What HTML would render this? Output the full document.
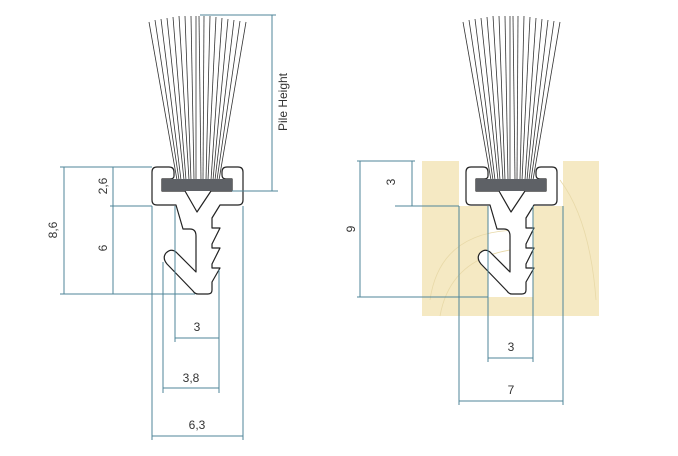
<!DOCTYPE html>
<html><head><meta charset="utf-8"><style>
html,body{margin:0;padding:0;background:#fff;width:678px;height:456px;overflow:hidden}
svg{display:block}
text{font-family:"Liberation Sans",sans-serif;font-size:12px;fill:#333}
</style></head><body>
<svg width="678" height="456" viewBox="0 0 678 456" xmlns="http://www.w3.org/2000/svg">
<defs>
<g id="bristles" stroke="#333" stroke-width="0.8" fill="none">
<line x1="149" y1="22" x2="177" y2="180"/>
<line x1="155" y1="20" x2="179" y2="180"/>
<line x1="161" y1="19" x2="181" y2="180"/>
<line x1="167" y1="18" x2="184" y2="180"/>
<line x1="173" y1="17" x2="186" y2="180"/>
<line x1="179" y1="16" x2="189" y2="180"/>
<line x1="185" y1="16" x2="191" y2="180"/>
<line x1="191" y1="16" x2="194" y2="180"/>
<line x1="196" y1="16" x2="196" y2="180"/>
<line x1="199" y1="16" x2="201" y2="180"/>
<line x1="204" y1="16" x2="203" y2="180"/>
<line x1="210" y1="16" x2="206" y2="180"/>
<line x1="216" y1="17" x2="208" y2="180"/>
<line x1="222" y1="18" x2="211" y2="180"/>
<line x1="228" y1="19" x2="213" y2="180"/>
<line x1="234" y1="20" x2="215" y2="180"/>
<line x1="240" y1="21" x2="217" y2="180"/>
<line x1="246" y1="22" x2="219" y2="180"/>
</g>
<g id="profile">
<use href="#bristles"/>
<path d="M152,172 Q152,167 157,167 H169 Q174,167 174,172 V176 Q174,179 170,179 H162 V191 H185 L197,212 L211,191 H232 V179 H226 Q222,179 222,175 V172 Q222,167 227,167 H238 Q243,167 243,172 V200 Q243,205 238,205 H220 L212,218 V228 L220,228 L212,244 V248 L220,248 L212,264 V268 L220,268 L212,282 V290 Q212,294 208,294 H198 Q195,294 193,291 L167,264 Q162,258 166,253 Q171,248 176,252 L196,272 V236 Q196,229 190,229 H183 L176,205 H157 Q152,205 152,200 Z" fill="#fff" stroke="#222" stroke-width="1.2" stroke-linejoin="round"/>
<rect x="162" y="179" width="70" height="12" fill="#5e6166"/>
</g>
</defs>

<path d="M422,161 H459 V206 H488 V297 H533 V206 H563 V161 H599 V316 H422 Z" fill="#f5e9c3"/>
<g fill="none" stroke="#e8d9a8" stroke-width="0.8">
<path d="M430,300 Q440,230 520,230"/><path d="M560,180 Q590,220 596,300"/><path d="M440,316 Q450,260 510,250"/>
</g>

<use href="#profile"/>
<use href="#profile" transform="translate(314,0)"/>

<g stroke="#4f8599" stroke-width="1" fill="none">
<line x1="200" y1="15" x2="276" y2="15"/>
<line x1="232" y1="191" x2="278" y2="191"/>
<line x1="272" y1="15" x2="272" y2="191"/>
<line x1="60" y1="167" x2="152" y2="167"/>
<line x1="60" y1="294" x2="195" y2="294"/>
<line x1="110" y1="206" x2="152" y2="206"/>
<line x1="64" y1="167" x2="64" y2="294"/>
<line x1="113" y1="167" x2="113" y2="294"/>
<line x1="152" y1="206" x2="152" y2="440"/>
<line x1="243" y1="206" x2="243" y2="440"/>
<line x1="163" y1="262" x2="163" y2="393"/>
<line x1="175" y1="206" x2="175" y2="342"/>
<line x1="219" y1="270" x2="219" y2="393"/>
<line x1="175" y1="338" x2="219" y2="338"/>
<line x1="163" y1="388" x2="219" y2="388"/>
<line x1="152" y1="436" x2="243" y2="436"/>
<line x1="398" y1="161" x2="415" y2="161"/>
<line x1="395" y1="206" x2="459" y2="206"/>
<line x1="412" y1="161" x2="412" y2="206"/>
<line x1="357" y1="161" x2="398" y2="161"/>
<line x1="357" y1="297" x2="488" y2="297"/>
<line x1="360" y1="161" x2="360" y2="297"/>
<line x1="459" y1="206" x2="459" y2="405"/>
<line x1="563" y1="206" x2="563" y2="405"/>
<line x1="488" y1="206" x2="488" y2="362"/>
<line x1="533" y1="206" x2="533" y2="362"/>
<line x1="488" y1="358" x2="533" y2="358"/>
<line x1="459" y1="401" x2="563" y2="401"/>
</g>

<text x="197" y="331" text-anchor="middle">3</text>
<text x="191" y="382" text-anchor="middle">3,8</text>
<text x="197" y="429" text-anchor="middle">6,3</text>
<text x="511" y="351" text-anchor="middle">3</text>
<text x="511" y="394" text-anchor="middle">7</text>
<text transform="translate(57,230) rotate(-90)" text-anchor="middle">8,6</text>
<text transform="translate(107,186) rotate(-90)" text-anchor="middle">2,6</text>
<text transform="translate(107,248) rotate(-90)" text-anchor="middle">6</text>
<text transform="translate(395,182) rotate(-90)" text-anchor="middle">3</text>
<text transform="translate(355,229) rotate(-90)" text-anchor="middle">9</text>
<text transform="translate(287,102) rotate(-90)" text-anchor="middle">Pile Height</text>
</svg>
</body></html>
